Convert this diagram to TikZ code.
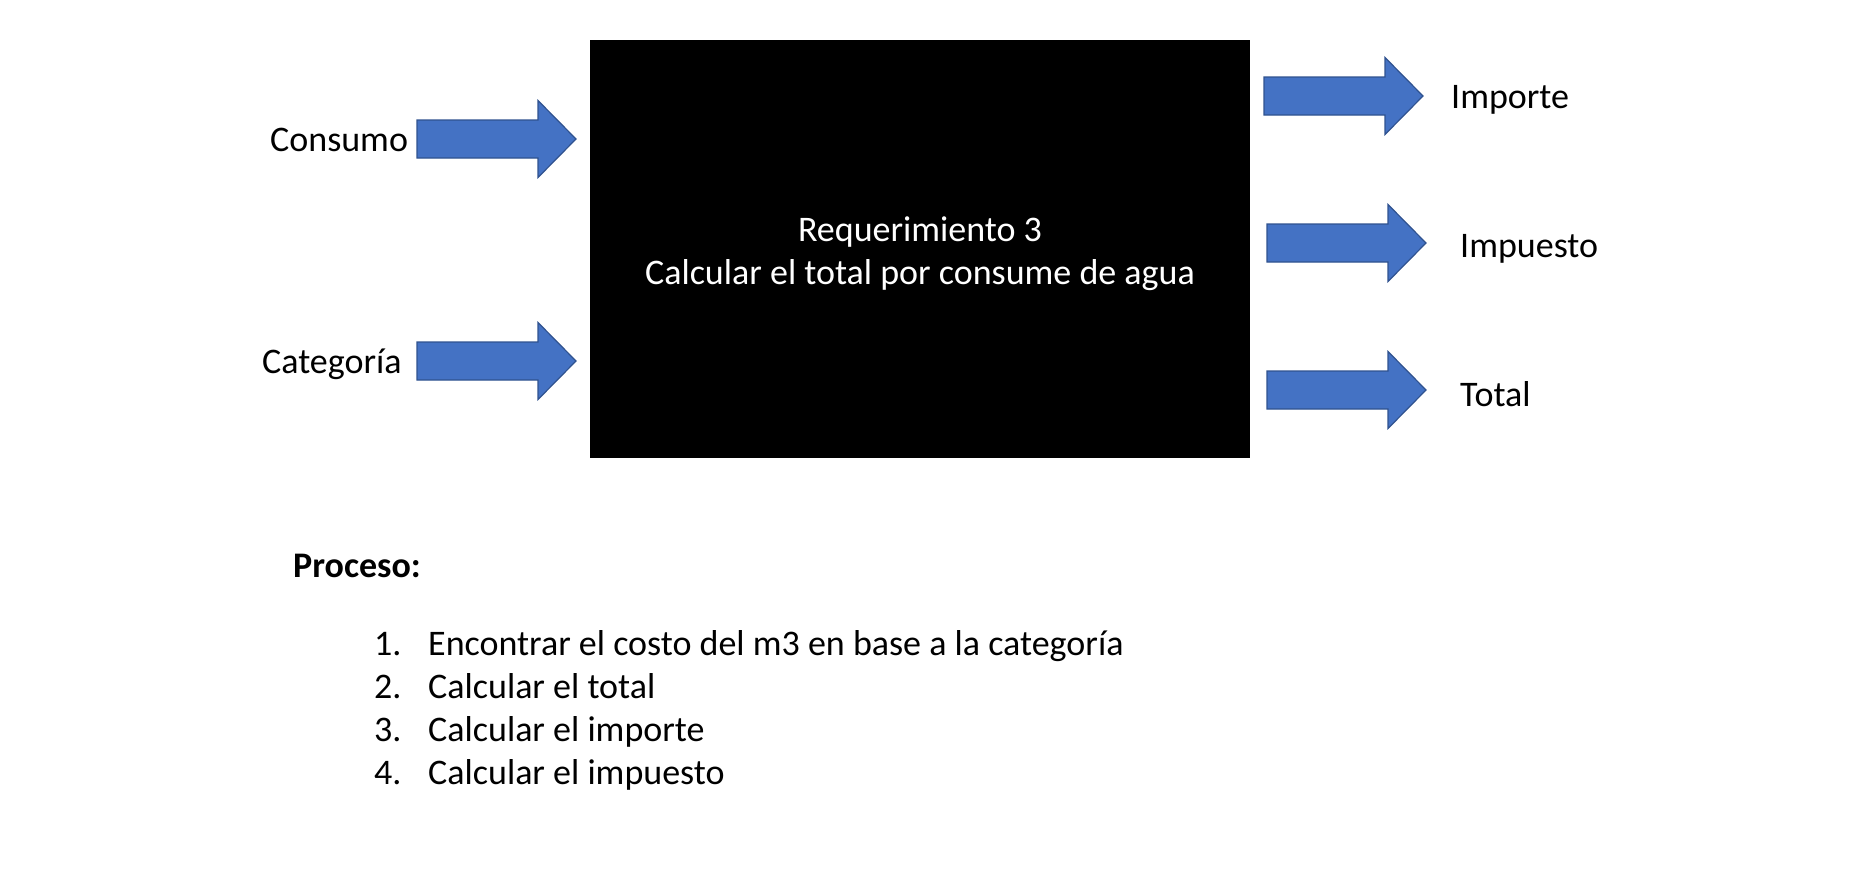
\documentclass[tikz,border=0pt]{standalone}
\usepackage{fontspec}
\setmainfont{Carlito}
\usepackage{xcolor}
\usetikzlibrary{positioning}

\definecolor{flechaazul}{HTML}{4472C4}
\definecolor{flechaborde}{HTML}{2F528F}

\begin{document}
\begin{tikzpicture}[x=1pt, y=-1pt,
    etiqueta/.style={anchor=base west, inner sep=0pt, font=\fontsize{36}{43}\selectfont},
    titulo/.style={anchor=base, inner sep=0pt, text=white, font=\fontsize{36}{43}\selectfont},
    caja/.style={fill=black, inner sep=0pt, minimum width=660pt, minimum height=418pt},
    flecha/.pic={
        \filldraw[fill=flechaazul, draw=flechaborde, line width=1.2pt]
            (0,-19) -- (121,-19) -- (121,-38.5) -- (159,0) -- (121,38.5) -- (121,19) -- (0,19) -- cycle;
    }]
    \useasboundingbox (0,0) rectangle (1861,881);

    % black process box
    \node[caja] (req) at (920,249) {};
    \node[titulo] (req1) at (920,241) {Requerimiento 3};
    \node[titulo] (req2) at (920,284) {Calcular el total por consume de agua};

    % inputs
    \node[etiqueta] (consumo) at (270,151) {Consumo};
    \node[etiqueta] (categoria) at (262,373) {Categoría};
    \pic (fconsumo) at (417,139) {flecha};
    \pic (fcategoria) at (417,361) {flecha};

    % outputs
    \pic (fimporte) at (1264,96) {flecha};
    \pic (fimpuesto) at (1267,243) {flecha};
    \pic (ftotal) at (1267,390) {flecha};
    \node[etiqueta] (importe) at (1451,108) {Importe};
    \node[etiqueta] (impuesto) at (1460,257) {Impuesto};
    \node[etiqueta] (total) at (1460,406) {Total};

    % process steps
    \node[etiqueta, font=\fontsize{36}{43}\selectfont\bfseries] (proceso) at (293,577) {Proceso:};
    \foreach \texto [count=\k] in {Encontrar el costo del m3 en base a la categoría,
        Calcular el total, Calcular el importe, Calcular el impuesto} {
        \node[etiqueta] (num\k) at (374,{655+43*(\k-1)}) {\k.};
        \node[etiqueta] (paso\k) at (428,{655+43*(\k-1)}) {\texto};
    }
\end{tikzpicture}
\end{document}
